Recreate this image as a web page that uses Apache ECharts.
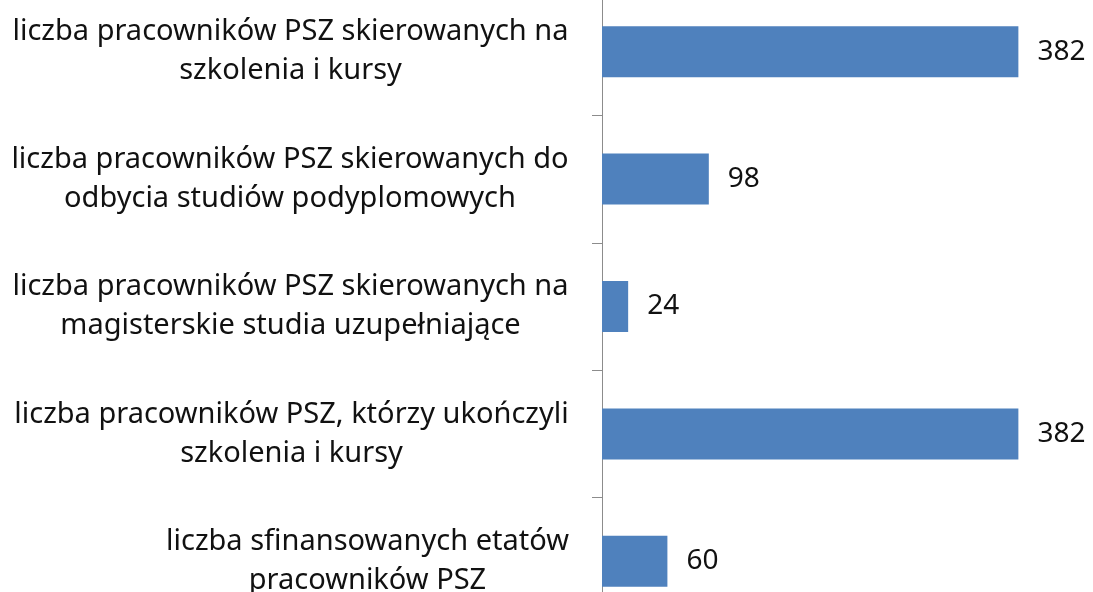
<!DOCTYPE html>
<html>
<head>
<meta charset="utf-8">
<script src="https://cdn.jsdelivr.net/npm/echarts@6/dist/echarts.min.js"></script>
<style>
  html, body { margin: 0; padding: 0; background: #fff; overflow: hidden; }
  #chart { width: 1093px; height: 637px; margin-top: -12px; }
</style>
</head>
<body>
<div id="chart"></div>
<script>
var categories = [
  'liczba pracowników PSZ skierowanych na\nszkolenia i kursy',
  'liczba pracowników PSZ skierowanych do\nodbycia studiów podyplomowych',
  'liczba pracowników PSZ skierowanych na\nmagisterskie studia uzupełniające',
  'liczba pracowników PSZ, którzy ukończyli\nszkolenia i kursy',
  'liczba sfinansowanych etatów\npracowników PSZ'
];
var values = [382, 98, 24, 382, 60];

var labelSize = 29;
var ctx = document.createElement('canvas').getContext('2d');
ctx.font = labelSize + 'px "Noto Sans"';

// each label: block aligned right against the axis, lines centred inside the block
var rich = {};
categories.forEach(function (c, i) {
  var w = Math.max.apply(null, c.split('\n').map(function (l) { return ctx.measureText(l).width; }));
  rich['c' + i] = {
    width: Math.ceil(w),
    align: 'center',
    fontFamily: 'Noto Sans',
    fontSize: labelSize,
    lineHeight: 39,
    color: '#111'
  };
});

var chart = echarts.init(document.getElementById('chart'));

var option = {
  animation: false,
  grid: { left: 602, right: 55, top: 0, bottom: 0, containLabel: false },
  xAxis: {
    type: 'value',
    min: 0,
    max: 400,
    show: false
  },
  yAxis: {
    type: 'category',
    inverse: true,
    data: categories,
    axisLine: { show: true, lineStyle: { color: '#8c8c8c', width: 1 } },
    axisTick: { show: true, length: 10, lineStyle: { color: '#8c8c8c' } },
    axisLabel: {
      margin: 33,
      align: 'right',
      formatter: function (value, index) {
        return value.split('\n').map(function (l) { return '{c' + index + '|' + l + '}'; }).join('\n');
      },
      rich: rich
    }
  },
  series: [{
    type: 'bar',
    data: values,
    barWidth: '40%',
    itemStyle: { color: '#4F81BD' },
    label: {
      show: true,
      position: 'right',
      distance: 19,
      color: '#111',
      fontFamily: 'Noto Sans',
      fontSize: 28
    }
  }]
};
chart.setOption(option);
</script>
</body>
</html>
